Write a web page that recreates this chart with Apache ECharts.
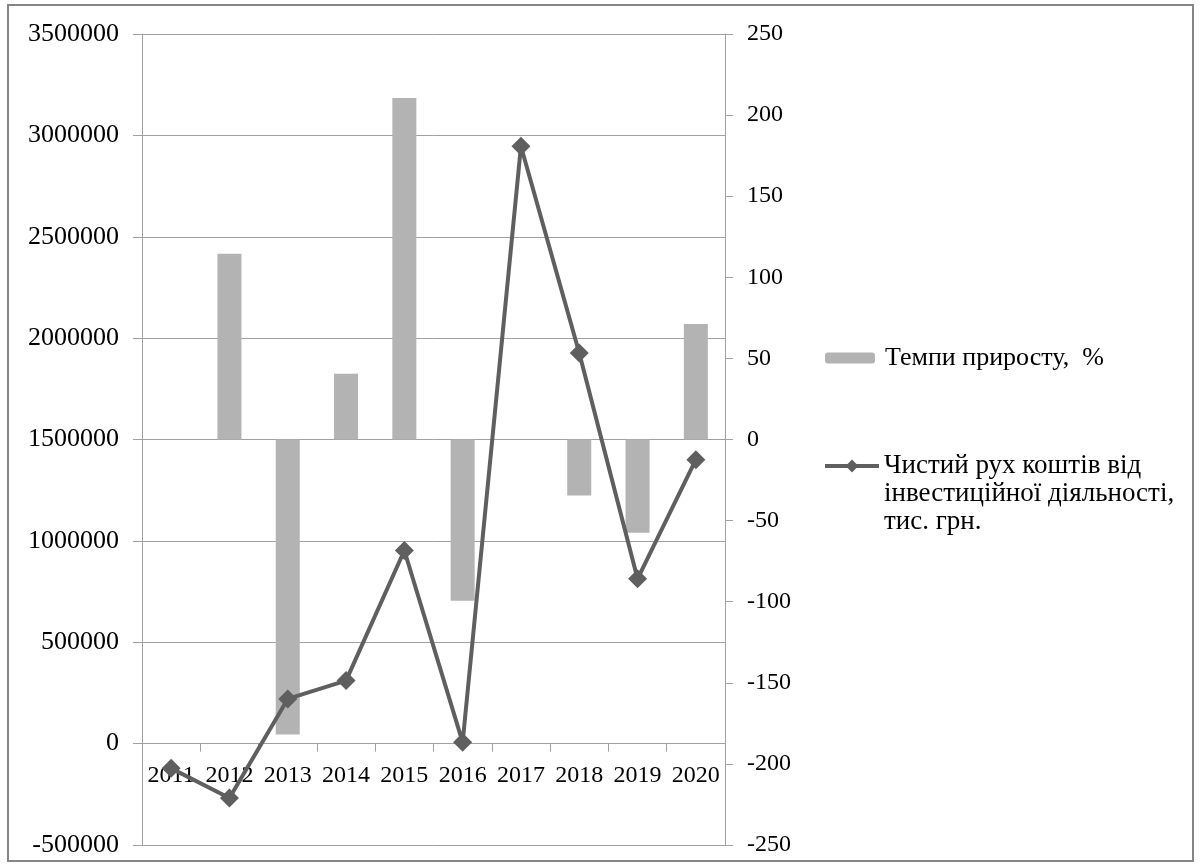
<!DOCTYPE html>
<html>
<head>
<meta charset="utf-8">
<script src="https://cdn.jsdelivr.net/npm/echarts@6/dist/echarts.min.js"></script>
<style>
  html, body { margin: 0; padding: 0; background: #fff; }
  #chart { width: 1201px; height: 867px; }
</style>
</head>
<body>
<div id="chart"></div>
<script>
// роки
var years = ['2011', '2012', '2013', '2014', '2015', '2016', '2017', '2018', '2019', '2020'];
// Темпи приросту, % (права вісь)
var growthRate = [null, 114.5, -181.9, 40.6, 210.6, -99.4, null, -34.5, -57.5, 71.2];
// Чистий рух коштів від інвестиційної діяльності, тис. грн. (ліва вісь)
var netFlow = [-122000, -268000, 220600, 311000, 952600, 6400, 2946700, 1926400, 813000, 1400300];

var barName = 'Темпи приросту,  %';
var lineName = 'Чистий рух коштів від інвестиційної діяльності, тис. грн.';

var font = 'Liberation Serif';
var axisGrey = '#a0a0a0';

var myChart = echarts.init(document.getElementById('chart'));
myChart.setOption({
    backgroundColor: '#fff',
    animation: false,
    textStyle: { fontFamily: font, color: '#000' },
    grid: { left: 142, right: 476, top: 34, bottom: 22, outerBoundsMode: 'none' },
    graphic: [{
        type: 'rect',
        shape: { x: 8, y: 5, width: 1185, height: 856 },
        style: { fill: 'none', stroke: '#868686', lineWidth: 2 },
        silent: true
    }],
    legend: [{
        data: [barName],
        orient: 'vertical',
        left: 825,
        top: 344,
        padding: 0,
        itemWidth: 50,
        itemHeight: 11,
        textStyle: { fontFamily: font, fontSize: 26, lineHeight: 28, color: '#000', padding: [0, 0, 0, 5] }
    }, {
        data: [lineName],
        orient: 'vertical',
        left: 823,
        top: 396,
        padding: 0,
        itemWidth: 54,
        itemHeight: 16,
        lineStyle: { width: 4, color: '#5f5f5f' },
        formatter: function () {
            // icon stays level with the first line
            return '\n\nЧистий рух коштів від\nінвестиційної діяльності,\nтис. грн.';
        },
        textStyle: { fontFamily: font, fontSize: 27, lineHeight: 28, color: '#000' }
    }],
    xAxis: [{
        type: 'category',
        data: years,
        boundaryGap: true,
        axisLine: { onZero: true, onZeroAxisIndex: 0, lineStyle: { color: axisGrey, width: 1 } },
        axisTick: { show: true, length: 8, interval: 0, lineStyle: { color: axisGrey } },
        axisLabel: { show: false },
        splitLine: { show: false }
    }, {
        // labels only, shifted up to the zero line
        type: 'category',
        data: years,
        position: 'bottom',
        offset: -102,
        boundaryGap: true,
        axisLine: { show: false, onZero: false },
        axisTick: { show: false },
        axisLabel: { interval: 0, margin: 21, fontSize: 24, fontFamily: font, color: '#000' },
        splitLine: { show: false }
    }],
    yAxis: [{
        type: 'value',
        min: -500000,
        max: 3500000,
        interval: 500000,
        axisLine: { show: true, lineStyle: { color: axisGrey, width: 1 } },
        axisTick: { show: true, length: 9, lineStyle: { color: axisGrey } },
        axisLabel: {
            margin: 23, fontSize: 26, fontFamily: font, color: '#000',
            formatter: function (v) { return String(v); }
        },
        splitLine: { show: true, lineStyle: { color: axisGrey, width: 1 } }
    }, {
        type: 'value',
        position: 'right',
        min: -250,
        max: 250,
        interval: 50,
        axisLine: { show: true, lineStyle: { color: axisGrey, width: 1 } },
        axisTick: { show: true, length: 8, lineStyle: { color: axisGrey } },
        axisLabel: { margin: 22, fontSize: 24, fontFamily: font, color: '#000' },
        splitLine: { show: false }
    }],
    series: [{
        name: barName,
        type: 'bar',
        yAxisIndex: 1,
        barWidth: 24,
        itemStyle: { color: '#b3b3b3' },
        data: growthRate
    }, {
        name: lineName,
        type: 'line',
        yAxisIndex: 0,
        symbol: 'diamond',
        symbolSize: 19,
        z: 5,
        itemStyle: { color: '#5f5f5f' },
        lineStyle: { color: '#5f5f5f', width: 4 },
        data: netFlow
    }]
});
</script>
</body>
</html>
